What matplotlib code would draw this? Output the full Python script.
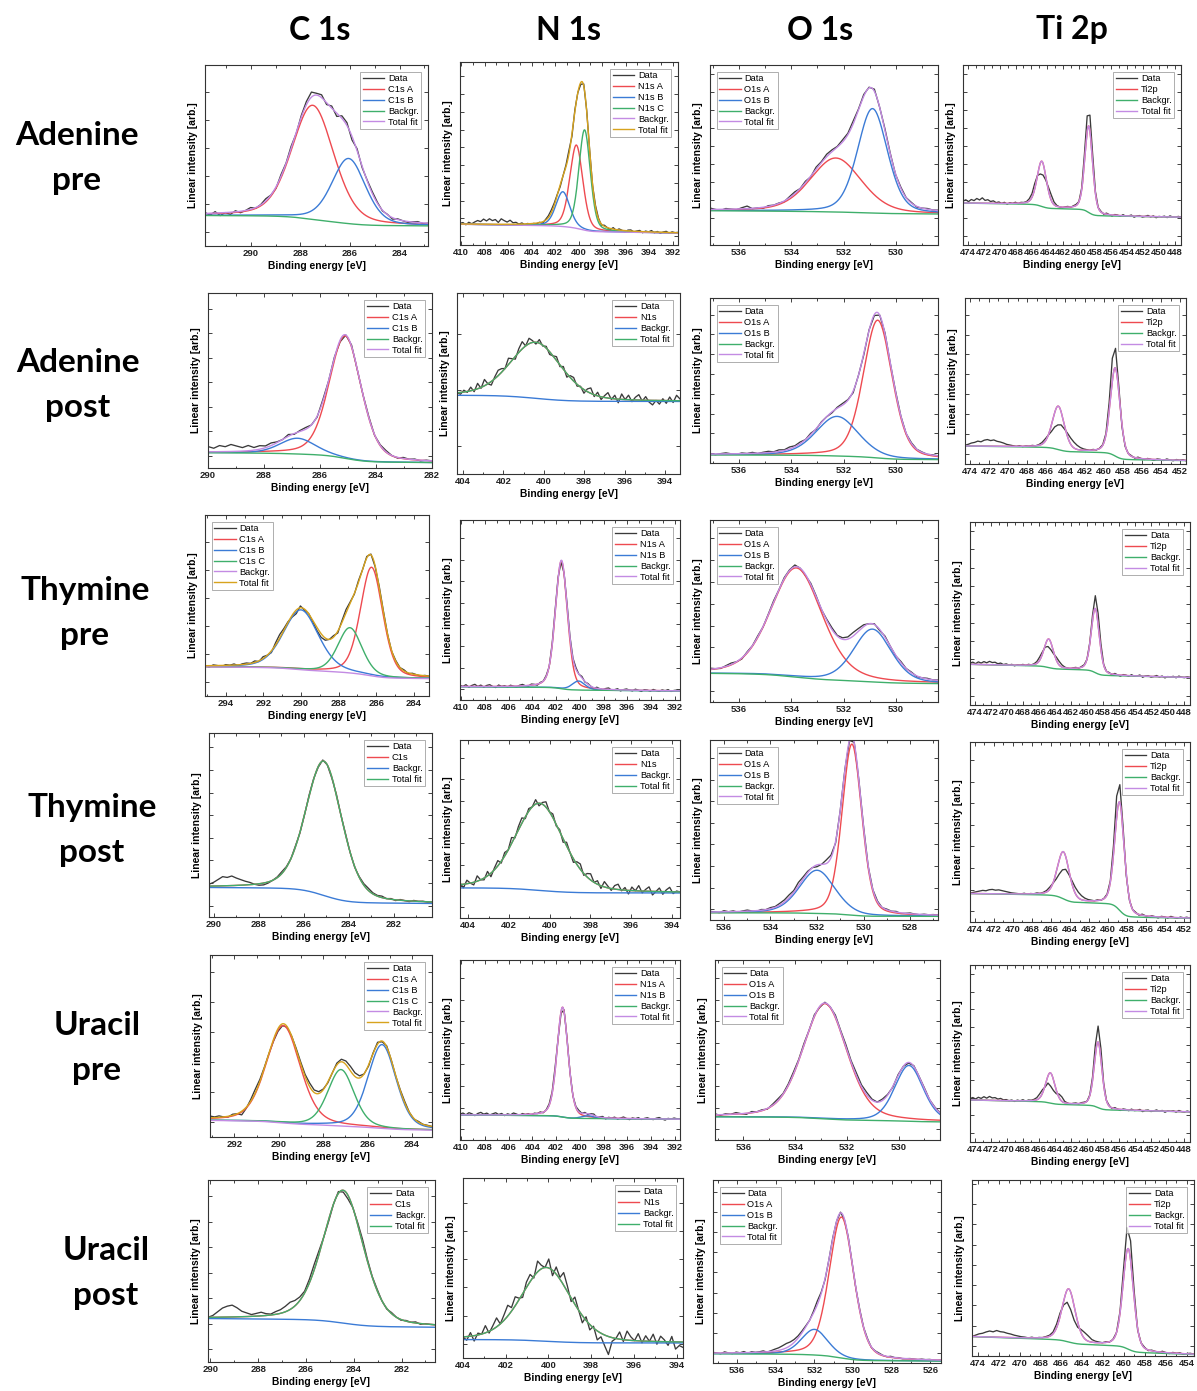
import math
import numpy as np
import matplotlib
matplotlib.use("Agg")
import matplotlib.pyplot as plt
from matplotlib.ticker import MultipleLocator

# Origin-like line colours
GRAY = '#3a3a3a'
RED = '#ee4a50'
BLUE = '#3b7bd6'
GREEN = '#3faf6b'
VIOLET = '#c38be3'
GOLD = '#d7a31d'

ROW_LABELS = ['Adenine\npre', 'Adenine\npost', 'Thymine\npre', 'Thymine\npost', 'Uracil\npre', 'Uracil\npost']
COL_TITLES = ['C 1s', 'N 1s', 'O 1s', 'Ti 2p']

# ---------------- C 1s ----------------
C1S_XLIM = [(291.85, 282.85), (290.0, 282.0), (295.1, 283.2), (290.2, 280.3), (293.1, 283.1), (290.1, 280.6)]
C1S_TICKS = [[290, 288, 286, 284], [290, 288, 286, 284, 282], [294, 292, 290, 288, 286, 284],
             [290, 288, 286, 284, 282], [292, 290, 288, 286, 284], [290, 288, 286, 284, 282]]
C1S_NAMES = [['C1s A', 'C1s B'], ['C1s A', 'C1s B'], ['C1s A', 'C1s B', 'C1s C'], ['C1s'],
             ['C1s A', 'C1s B', 'C1s C'], ['C1s']]
# (centre eV, fwhm eV, height)
C1S_PEAKS = [
    [(287.5, 2.0, 0.63), (286.05, 1.6, 0.36)],
    [(285.1, 1.35, 0.70), (286.8, 1.5, 0.09)],
    [(286.25, 1.4, 0.60), (290.0, 2.2, 0.33), (287.4, 1.5, 0.25)],
    [(285.1, 1.9, 0.73)],
    [(289.8, 1.8, 0.535), (285.35, 1.5, 0.46), (287.2, 1.4, 0.31)],
    [(284.45, 2.0, 0.73)],
]
# (level at low BE, shirley step, slope per eV)
C1S_BG = [(0.11, 0.055, 0.0005), (0.03, 0.05, 0.001), (0.095, 0.055, 0.001),
          (0.072, 0.085, 0.0005), (0.037, 0.04, 0.0015), (0.19, 0.04, 0.001)]

# ---------------- N 1s ----------------
N1S_XLIM = [(410.1, 391.55), (404.3, 393.25), (410.1, 391.55), (404.4, 393.6), (410.1, 391.55), (404.0, 393.7)]
N1S_TICKS = [[410, 408, 406, 404, 402, 400, 398, 396, 394, 392], [404, 402, 400, 398, 396, 394],
             [410, 408, 406, 404, 402, 400, 398, 396, 394, 392], [404, 402, 400, 398, 396, 394],
             [410, 408, 406, 404, 402, 400, 398, 396, 394, 392], [404, 402, 400, 398, 396, 394]]
N1S_NAMES = [['N1s A', 'N1s B', 'N1s C'], ['N1s'], ['N1s A', 'N1s B'], ['N1s'], ['N1s A', 'N1s B'], ['N1s']]
N1S_PEAKS = [
    [(400.2, 1.3, 0.455), (401.35, 1.4, 0.19), (399.5, 1.15, 0.548)],
    [(400.4, 3.0, 0.31)],
    [(401.55, 1.2, 0.71), (400.1, 1.3, 0.05)],
    [(400.5, 2.8, 0.49)],
    [(401.45, 1.1, 0.61), (399.3, 1.2, 0.015)],
    [(400.1, 2.75, 0.41)],
]
N1S_BG = [(0.065, 0.03, 0.001), (0.40, 0.036, 0.0), (0.05, 0.015, 0.0005),
          (0.14, 0.03, 0.0), (0.115, 0.015, 0.0005), (0.083, 0.02, 0.0)]

# ---------------- O 1s ----------------
O1S_XLIM = [(537.1, 528.4), (537.1, 528.4), (537.1, 528.4), (536.6, 526.8), (537.1, 528.4), (537.25, 525.45)]
O1S_TICKS = [[536, 534, 532, 530], [536, 534, 532, 530], [536, 534, 532, 530],
             [536, 534, 532, 530, 528], [536, 534, 532, 530], [536, 534, 532, 530, 528, 526]]
O1S_NAMES = [['O1s A', 'O1s B']] * 6
O1S_PEAKS = [
    [(532.3, 2.3, 0.30), (530.9, 1.35, 0.58)],
    [(530.7, 1.3, 0.835), (532.25, 1.9, 0.24)],
    [(533.8, 2.3, 0.60), (530.9, 1.7, 0.29)],
    [(530.5, 1.0, 0.95), (532.0, 1.8, 0.24)],
    [(532.85, 2.0, 0.64), (529.6, 1.3, 0.31)],
    [(530.6, 1.5, 0.77), (532.0, 1.6, 0.14)],
]
O1S_BG = [(0.172, 0.01, 0.001), (0.02, 0.025, 0.0005), (0.10, 0.05, 0.001),
          (0.02, 0.02, 0.0), (0.10, 0.025, 0.0005), (0.01, 0.035, 0.0005)]

# ---------------- Ti 2p ----------------
TI_XLIM = [(474.6, 447.2), (474.5, 451.4), (474.6, 447.2), (474.5, 451.4), (474.6, 447.2), (474.55, 453.3)]
TI_TICKS = [list(range(474, 447, -2)), list(range(474, 451, -2)), list(range(474, 447, -2)),
            list(range(474, 451, -2)), list(range(474, 447, -2)), list(range(474, 453, -2))]
TI_NAMES = [['Ti2p']] * 6
TI_PEAKS = [
    [(458.8, 1.15, 0.48), (464.7, 1.4, 0.25)],
    [(458.8, 1.2, 0.53), (464.75, 1.5, 0.26)],
    [(459.0, 1.2, 0.35), (464.8, 1.4, 0.155)],
    [(458.8, 1.2, 0.60), (464.7, 1.5, 0.26)],
    [(458.65, 1.15, 0.37), (464.6, 1.4, 0.17)],
    [(459.6, 1.2, 0.57), (465.3, 1.5, 0.30)],
]
TI_BG = [(0.154, 0.06, 0.0007), (0.02, 0.07, 0.0008), (0.15, 0.045, 0.001),
         (0.02, 0.12, 0.0008), (0.17, 0.04, 0.001), (0.008, 0.06, 0.002)]

# ---------------- measured data, as deviation from the fit (left to right) ----------------
RES_C1S_ADE_PRE = [0.005, -0.01, 0.008, -0.015, 0.0, -0.012, 0.006, -0.008, 0.0, 0.01, -0.004, 0.002, 0.012, 0.0,
                   -0.008, 0.01, 0.002, 0.012, -0.006, 0.01, 0.018, 0.028, 0.01, 0.016, -0.01, 0.012, -0.018, 0.014,
                   0.016, -0.02, 0.01, -0.008, 0.004, 0.01, 0.006, -0.004, 0.002, -0.008, 0.004, 0.0, -0.005, 0.002,
                   0.005, -0.004, 0.0]
RES_N1S_ADE_PRE = [0.004, 0.008, -0.004, 0.01, 0.002, 0.012, 0.02, 0.014, 0.028, 0.018, 0.03, 0.02, 0.026, 0.01,
                   0.03, 0.02, 0.012, 0.022, 0.008, 0.01, 0.0, 0.006, -0.004, 0.002, -0.006, 0.0, -0.004, 0.002,
                   -0.008, 0.004, 0.01, 0.015, 0.012, 0.005, -0.01, 0.0, 0.01, 0.02, -0.01, 0.01, 0.0, -0.01, 0.01,
                   0.005, 0.0, -0.005, 0.008, 0.004, -0.006, 0.006, 0.0, -0.006, 0.008, -0.004, 0.006, 0.0, -0.008,
                   0.004, 0.006, -0.004, 0.002, 0.006, -0.006, 0.004, 0.0, 0.008, -0.004, 0.004, -0.006, 0.002,
                   0.006, -0.004, 0.004, 0.0, 0.002]
RES_O1S_ADE_PRE = [0.008, 0.0, -0.006, 0.004, 0.0, -0.004, 0.006, 0.014, -0.002, 0.0, -0.006, 0.004, 0.0, 0.002,
                   -0.004, 0.006, 0.01, 0.0, 0.008, -0.004, 0.012, 0.006, 0.014, 0.01, 0.004, 0.012, 0.008, 0.016,
                   0.006, 0.01, 0.004, 0.012, 0.0, 0.008, 0.004, -0.004, 0.006, 0.0, 0.004, -0.004, 0.0, 0.004, 0.0,
                   0.002]
RES_TI_ADE_PRE = [0.01, 0.018, 0.008, 0.02, 0.014, 0.026, 0.018, 0.03, 0.016, 0.02, 0.01, 0.014, 0.004, 0.008,
                  0.0, 0.006, -0.004, 0.004, 0.0, 0.006, -0.002, 0.004, 0.002,
                  0.004, 0.012, 0.02, 0.03, 0.0, -0.06, -0.065, -0.02, 0.02, 0.03, 0.015, 0.005,
                  0.0, -0.004, 0.002, 0.004, -0.002, 0.004, 0.006, 0.002,
                  0.01, 0.05, 0.09, 0.09, 0.05, 0.01, 0.0,
                  0.004, -0.004, 0.006, 0.0, -0.006, 0.004, 0.002, -0.004, 0.006, -0.002, 0.0, 0.006, -0.006, 0.002,
                  0.004, -0.004, 0.0, 0.006, -0.002, 0.004, -0.006, 0.002, 0.0, 0.004, -0.004, 0.006, 0.0, -0.002,
                  0.004, 0.0]

RES_C1S_ADE_POST = [0.03, 0.02, 0.035, 0.028, 0.04, 0.03, 0.02, 0.03, 0.015, 0.02, 0.01, 0.015, 0.005, 0.0, 0.01,
                    -0.005, 0.005, 0.01, 0.0, -0.005, 0.01, 0.0, 0.005, -0.01, 0.0, 0.008, -0.004, 0.0, 0.006,
                    -0.004, 0.004, 0.008, 0.0, -0.004, 0.006, 0.0, 0.004, -0.004, 0.002, 0.0]
RES_N1S_ADE_POST = [0.0, -0.01, 0.01, -0.005, 0.02, -0.01, 0.03, -0.005, 0.035, 0.0, -0.02, 0.01, 0.03, 0.02, 0.0,
                    0.035, 0.01, -0.015, 0.02, 0.04, 0.0, 0.03, 0.01, -0.01, 0.02, -0.005, 0.01, -0.015, 0.0, 0.02,
                    -0.01, 0.015, -0.02, 0.01, 0.02, -0.01, 0.005, -0.02, 0.015, 0.03, -0.01, 0.02, -0.015, 0.01,
                    0.03, -0.005, 0.02, -0.02, 0.03, 0.0, 0.025, -0.01, 0.015, 0.03, -0.005, 0.02, -0.01, -0.025,
                    0.0, -0.02, 0.01, -0.015, 0.02, -0.01, 0.03, 0.01]
RES_O1S_ADE_POST = [0.004, -0.004, 0.002, 0.006, 0.0, -0.004, 0.004, 0.0, 0.006, -0.002, 0.004, 0.008, 0.002, 0.01,
                    0.004, 0.012, 0.006, 0.01, 0.0, 0.008, -0.004, 0.004, 0.0, -0.006, 0.006, 0.01, 0.004, -0.01, 0.0,
                    -0.008, 0.004, -0.006, 0.0, 0.006, -0.004, 0.004, 0.0, -0.004, 0.004, 0.0, 0.002, -0.002, 0.002,
                    0.0]
RES_TI_ADE_POST = [0.004, 0.01, 0.018, 0.022, 0.03, 0.026, 0.036, 0.04, 0.034, 0.038, 0.03, 0.026, 0.02, 0.012,
                   0.008, 0.004, 0.0, 0.004, -0.002, 0.002, 0.0, 0.004, 0.0, 0.004,
                   0.01, 0.014, 0.0, -0.04, -0.086, -0.113, -0.08, -0.026, 0.02, 0.037, 0.035, 0.025, 0.015, 0.008,
                   0.004, 0.0, 0.004, -0.002, 0.002, 0.004, 0.01,
                   0.058, 0.14, 0.12, 0.035, -0.017, -0.01,
                   0.0, 0.004, -0.004, 0.006, 0.0, -0.004, 0.004, 0.0, -0.006, 0.004, 0.002, -0.004, 0.006, 0.0,
                   -0.004, 0.004, 0.0, 0.004, -0.002]

RES_C1S_THY_PRE = [0.0, -0.008, 0.004, 0.0, -0.006, 0.004, 0.0, 0.006, -0.004, 0.004, 0.006, 0.0, 0.008, -0.004,
                   0.01, 0.0, -0.01, 0.012, 0.02, 0.01, 0.004, -0.01, -0.02, 0.01, -0.006, 0.0, -0.01, -0.018,
                   -0.02, -0.012, 0.0, 0.008, -0.01, 0.01, 0.018, 0.006, -0.004, 0.01, 0.0, 0.008, 0.004, -0.006,
                   0.004, 0.006, 0.0, -0.004, 0.004, 0.0, 0.006, -0.004, 0.004, 0.0, -0.004, 0.002, 0.0]
RES_N1S_THY_PRE = [0.006, 0.0, 0.01, -0.004, 0.006, 0.012, 0.0, 0.008, -0.004, 0.006, 0.01, 0.0, -0.006, 0.008,
                   0.0, 0.004, -0.004, 0.006, 0.0, -0.006, 0.004, 0.008, 0.0, -0.004, 0.006, 0.002, -0.006, 0.004,
                   0.0, 0.006, -0.004, 0.01, 0.02, 0.01, -0.01, 0.0, 0.012, 0.006, 0.004, 0.01, 0.0, 0.008, -0.004,
                   0.004, 0.0, -0.006, 0.006, 0.0, -0.004, 0.004, 0.008, -0.004, 0.0, 0.006, -0.006, 0.002, 0.006,
                   0.0, -0.004, 0.006, 0.0, -0.006, 0.004, 0.002, -0.004, 0.006, 0.0, -0.004, 0.004, 0.0, 0.006,
                   -0.004, 0.002, 0.004, 0.0]
RES_O1S_THY_PRE = [0.006, 0.0, -0.004, 0.004, 0.008, 0.0, -0.006, 0.004, 0.0, 0.006, -0.002, 0.004, 0.008, 0.0,
                   0.006, 0.004, 0.01, 0.0, -0.006, 0.006, 0.004, -0.004, 0.006, 0.01, 0.004, 0.008, 0.012, 0.02,
                   0.016, 0.01, 0.0, 0.004, -0.006, 0.006, 0.0, -0.004, 0.006, 0.0, 0.004, -0.004, 0.0, 0.004, 0.0,
                   0.002]
RES_TI_THY_PRE = [0.006, 0.012, 0.004, 0.014, 0.008, 0.016, 0.01, 0.018, 0.012, 0.014, 0.006, 0.01, 0.002, 0.006,
                  0.0, 0.004, -0.004, 0.002, 0.0, 0.004, -0.002, 0.004, 0.0,
                  0.004, 0.01, 0.018, 0.012, -0.01, -0.04, -0.04, -0.012, 0.016, 0.02, 0.012, 0.004,
                  0.0, -0.004, 0.002, 0.004, -0.002, 0.004, 0.004, 0.0,
                  0.006, 0.03, 0.07, 0.06, 0.03, 0.004, 0.0,
                  0.004, -0.004, 0.006, 0.0, -0.006, 0.004, 0.002, -0.004, 0.006, -0.002, 0.0, 0.006, -0.006, 0.002,
                  0.004, -0.004, 0.0, 0.006, -0.002, 0.004, -0.006, 0.002, 0.0, 0.004, -0.004, 0.006, 0.0, -0.002,
                  0.004, 0.0]

RES_C1S_THY_POST = [0.01, 0.02, 0.035, 0.05, 0.045, 0.052, 0.04, 0.03, 0.02, 0.012, 0.0, -0.008, -0.01, -0.006,
                    0.0, 0.004, 0.01, 0.004, 0.0, 0.006, -0.004, 0.0, 0.008, 0.004, -0.004, 0.006, 0.0, -0.006,
                    0.004, 0.0, 0.006, 0.0, -0.004, 0.004, 0.008, 0.012, 0.006, 0.004, 0.008, 0.0, 0.004, -0.004,
                    0.004, 0.0, -0.004, 0.004, 0.0, 0.002, -0.002, 0.0]
RES_N1S_THY_POST = [0.01, -0.02, 0.02, 0.0, -0.015, 0.03, 0.0, -0.01, 0.025, -0.02, 0.01, 0.03, -0.01, 0.02, 0.0,
                    0.035, -0.005, 0.02, 0.03, -0.01, 0.015, 0.0, 0.025, -0.015, 0.01, 0.03, 0.0, 0.02, -0.01, 0.01,
                    -0.02, 0.02, 0.0, -0.02, 0.015, 0.03, -0.01, 0.02, 0.035, 0.0, 0.02, -0.015, 0.03, 0.01, -0.01,
                    0.02, 0.03, -0.005, 0.015, -0.02, 0.02, 0.0, 0.03, -0.01, 0.01, 0.025, -0.02, 0.0, 0.02, -0.015,
                    0.01, 0.025, -0.01, 0.005, 0.0]
RES_O1S_THY_POST = [0.004, 0.0, -0.004, 0.006, 0.0, 0.004, -0.004, 0.002, 0.006, 0.0, -0.004, 0.004, 0.0, 0.006,
                    0.004, 0.01, 0.012, 0.016, 0.01, 0.02, 0.012, 0.008, 0.0, -0.01, 0.0, 0.02, 0.015, -0.01, 0.0,
                    0.006, -0.004, 0.004, 0.0, 0.006, -0.004, 0.0, 0.004, -0.002, 0.004, 0.0, 0.004, -0.004, 0.0,
                    0.004, 0.0, -0.002, 0.002, 0.0, 0.002, 0.0]
RES_TI_THY_POST = [0.002, 0.006, 0.01, 0.014, 0.018, 0.016, 0.022, 0.024, 0.02, 0.022, 0.018, 0.014, 0.01, 0.006,
                   0.004, 0.002, 0.0, 0.004, -0.002, 0.002, 0.0, 0.004, 0.0, 0.004, 0.008, 0.012, 0.0, -0.035,
                   -0.078, -0.1, -0.072, -0.024, 0.018, 0.033, 0.031, 0.022, 0.013, 0.007, 0.004, 0.0, 0.004,
                   -0.002, 0.002, 0.004, 0.008, 0.05, 0.12, 0.1, 0.03, -0.015, -0.008, 0.0, 0.004, -0.004, 0.006,
                   0.0, -0.004, 0.004, 0.0, -0.006, 0.004, 0.002, -0.004, 0.006, 0.0, -0.004, 0.004, 0.0, 0.004,
                   -0.002]

RES_C1S_URA_PRE = [0.01, 0.004, 0.008, 0.0, -0.004, 0.006, 0.0, -0.02, -0.006, 0.01, 0.02, 0.012, 0.006, 0.0,
                   -0.01, -0.015, -0.01, -0.004, 0.0, 0.006, 0.01, 0.012, 0.02, 0.014, 0.01, 0.004, -0.004, 0.0,
                   0.01, 0.014, 0.02, 0.025, 0.02, 0.012, 0.0, -0.006, 0.004, 0.01, -0.004, 0.006, 0.0, -0.004,
                   0.004, 0.008, 0.0, -0.004, 0.004, 0.0, 0.002, 0.0]
RES_N1S_URA_PRE = [0.004, 0.01, 0.0, 0.012, 0.006, -0.004, 0.008, 0.014, 0.004, 0.01, 0.0, 0.006, 0.012, 0.002,
                   0.008, -0.004, 0.006, 0.0, 0.01, 0.004, -0.004, 0.006, 0.0, 0.004, -0.006, 0.004, 0.0, 0.006,
                   -0.004, 0.002, 0.008, 0.01, 0.02, 0.0, -0.01, 0.01, 0.006, 0.0, -0.004, 0.004, 0.008, 0.0, 0.006,
                   -0.004, 0.004, 0.008, -0.004, 0.002, 0.006, -0.006, 0.004, 0.0, 0.006, -0.004, 0.002, 0.008, 0.0,
                   -0.006, 0.004, 0.0, 0.006, -0.004, 0.002, 0.006, 0.0, -0.004, 0.004, 0.008, 0.0, -0.006, 0.004,
                   0.0, 0.006, 0.002, 0.0]
RES_O1S_URA_PRE = [0.006, -0.004, 0.004, 0.0, 0.008, 0.0, -0.006, 0.006, 0.0, 0.004, -0.004, 0.006, 0.01, 0.004,
                   0.008, 0.012, 0.006, 0.01, 0.0, 0.008, -0.006, 0.004, 0.0, 0.01, 0.004, 0.012, 0.008, 0.016, 0.01,
                   0.014, 0.006, 0.0, 0.008, 0.004, -0.004, 0.006, 0.0, -0.004, 0.004, 0.0, 0.004, -0.002, 0.002,
                   0.0]
RES_TI_URA_PRE = [0.008, 0.014, 0.006, 0.016, 0.01, 0.02, 0.012, 0.022, 0.014, 0.016, 0.008, 0.012, 0.004, 0.006,
                  0.0, 0.004, -0.004, 0.004, 0.0, 0.006, -0.002, 0.004, 0.002,
                  0.006, 0.012, 0.022, 0.02, -0.01, -0.04, -0.075, -0.06, -0.02, 0.02, 0.025, 0.008,
                  0.002, -0.004, 0.002, 0.004, -0.002, 0.004, 0.004, 0.0,
                  0.004, 0.02, 0.06, 0.09, 0.06, 0.01, 0.0,
                  0.004, -0.004, 0.006, 0.0, -0.006, 0.004, 0.002, -0.004, 0.006, -0.002, 0.0, 0.006, -0.006, 0.002,
                  0.004, -0.004, 0.0, 0.006, -0.002, 0.004, -0.006, 0.002, 0.0, 0.004, -0.004, 0.006, 0.0, -0.002,
                  0.004, 0.0]

RES_C1S_URA_POST = [0.0, 0.01, 0.03, 0.05, 0.06, 0.065, 0.05, 0.03, 0.02, 0.01, 0.015, 0.02, 0.01, 0.005, 0.015,
                    0.02, 0.03, 0.04, 0.03, 0.02, 0.01, 0.02, 0.03, 0.02, 0.0, -0.01, 0.0, 0.01, -0.01, -0.02, 0.0,
                    0.01, 0.02, 0.01, 0.004, 0.008, 0.0, -0.004, 0.006, 0.0, -0.004, 0.004, 0.0, 0.006, -0.004,
                    0.002, 0.0, 0.0]
RES_N1S_URA_POST = [0.0, -0.02, 0.02, -0.03, 0.01, 0.0, 0.04, -0.01, 0.02, 0.05, 0.0, 0.03, 0.06, 0.02, 0.05, 0.01,
                    -0.02, 0.03, 0.04, -0.01, 0.06, 0.02, 0.0, 0.05, -0.03, 0.04, 0.01, 0.07, 0.03, -0.02, 0.04, 0.0,
                    -0.04, 0.02, -0.03, 0.01, -0.05, -0.02, -0.06, -0.1, -0.02, 0.0, 0.04, -0.01, 0.05, 0.02, 0.0,
                    0.04, -0.01, 0.03, 0.0, 0.04, -0.015, 0.03, 0.01, -0.02, 0.03, -0.04, -0.02, -0.03]
RES_O1S_URA_POST = [0.004, 0.0, -0.004, 0.006, 0.0, -0.004, 0.004, 0.0, 0.006, -0.004, 0.004, 0.0, 0.002, 0.006,
                    -0.002, 0.004, 0.01, 0.014, 0.02, 0.024, 0.02, 0.016, 0.012, 0.01, 0.006, 0.0, 0.01, 0.02, 0.008,
                    -0.006, 0.0, 0.006, 0.0, 0.004, -0.004, 0.004, 0.0, -0.004, 0.004, 0.0, 0.004, -0.004, 0.002,
                    0.004, 0.0, -0.002, 0.004, 0.0, 0.002, -0.002, 0.0, 0.002, 0.0, -0.002, 0.002, 0.0, 0.002, 0.0,
                    -0.002, 0.0]
RES_TI_URA_POST = [0.0, 0.008, 0.016, 0.02, 0.028, 0.034, 0.03, 0.038, 0.032, 0.03, 0.024, 0.02, 0.014, 0.01,
                   0.006, 0.004,
                   0.0, 0.004, -0.002, 0.002, 0.0, 0.004, 0.006, 0.01,
                   0.02, 0.02, -0.02, -0.07, -0.1, -0.08, -0.03, 0.02, 0.035, 0.03, 0.015,
                   0.008, 0.004, 0.0, 0.004, -0.002, 0.002, 0.0,
                   0.01, 0.06, 0.13, 0.11, 0.04, -0.01,
                   0.0, 0.004, -0.004, 0.004, 0.0, -0.004, 0.006, 0.0, -0.004, 0.004, 0.0, 0.004, -0.004, 0.002,
                   0.004, 0.0]

C1S_RES = [RES_C1S_ADE_PRE, RES_C1S_ADE_POST, RES_C1S_THY_PRE, RES_C1S_THY_POST, RES_C1S_URA_PRE, RES_C1S_URA_POST]
N1S_RES = [RES_N1S_ADE_PRE, RES_N1S_ADE_POST, RES_N1S_THY_PRE, RES_N1S_THY_POST, RES_N1S_URA_PRE, RES_N1S_URA_POST]
O1S_RES = [RES_O1S_ADE_PRE, RES_O1S_ADE_POST, RES_O1S_THY_PRE, RES_O1S_THY_POST, RES_O1S_URA_PRE, RES_O1S_URA_POST]
TI_RES = [RES_TI_ADE_PRE, RES_TI_ADE_POST, RES_TI_THY_PRE, RES_TI_THY_POST, RES_TI_URA_PRE, RES_TI_URA_POST]

# ---------------- layout (pixel boxes: left, top, right, bottom) ----------------
W, H = 1197, 1391
BOXES = [
    [(205, 65, 428, 246), (460, 62, 678, 245), (710, 65, 938, 245), (963, 65, 1181, 245)],
    [(208, 293, 432, 468), (457, 293, 680, 474), (710, 298, 938, 463), (965, 298, 1186, 464)],
    [(205, 515, 429, 696), (460, 520, 680, 700), (710, 520, 938, 702), (970, 522, 1190, 705)],
    [(209, 733, 432, 917), (460, 740, 680, 918), (710, 740, 938, 920), (970, 742, 1190, 922)],
    [(210, 955, 432, 1137), (460, 960, 680, 1140), (715, 960, 940, 1140), (970, 965, 1190, 1142)],
    [(208, 1180, 435, 1362), (463, 1178, 683, 1358), (713, 1180, 941, 1363), (972, 1180, 1194, 1356)],
]
YSTEP = [
    [0.155, 0.097, 0.10, 0.10],
    [0.14, 0.31, 0.12, 0.12],
    [0.155, 0.12, 0.12, 0.10],
    [0.123, 0.12, 0.12, 0.12],
    [0.165, 0.12, 0.12, 0.10],
    [0.14, 0.157, 0.11, 0.115],
]
ROW_POS = [(77, 158), (78, 385), (85, 613), (92, 830), (97, 1048), (106, 1273)]
COL_POS = [320, 568, 820, 1072]
LEG_LOC = [
    ['upper right', 'upper right', 'upper left', 'upper right'],
    ['upper right', 'upper right', 'upper left', 'upper right'],
    ['upper left', 'upper right', 'upper left', 'upper right'],
    ['upper right', 'upper right', 'upper left', 'upper right'],
    ['upper right', 'upper right', 'upper left', 'upper right'],
    ['upper right', 'upper right', 'upper left', 'upper right'],
]

M = 0.3  # lorentzian share of the line shape
K = 4 * math.log(2)
erf = np.vectorize(math.erf)


def peak(x, c, w, h):
    d = (x - c) / w
    return h * ((1 - M) * np.exp(-K * d ** 2) + M / (1 + 4 * d ** 2))


def peak_cdf(x, c, w):
    d = (x - c) / w
    return (1 - M) * 0.5 * (1 + erf(math.sqrt(K) * d)) + M * (0.5 + np.arctan(2 * d) / np.pi)


def background(x, peaks, bg, xmin):
    lo, step, slope = bg
    areas = [h * w for c, w, h in peaks]
    s = sum(a * peak_cdf(x, c, w) for a, (c, w, h) in zip(areas, peaks)) / sum(areas)
    return lo + step * s + slope * (x - xmin)


def total(x, peaks, bg, xmin):
    return background(x, peaks, bg, xmin) + sum(peak(x, c, w, h) for c, w, h in peaks)


def draw_panel(ax, xlim, ticks, peaks, names, bg, res, ti, loc, ystep):
    xmin = min(xlim)
    xs = np.linspace(xlim[1], xlim[0], 700)
    bgs = background(xs, peaks, bg, xmin)
    tot = total(xs, peaks, bg, xmin)

    xd = np.linspace(xlim[0], xlim[1], len(res))
    yd = total(xd, peaks, bg, xmin) + np.array(res)
    ax.plot(xd, yd, color=GRAY, lw=0.95, label='Data')

    if ti:
        ax.plot(xs, tot, color=RED, lw=1.0, label=names[0])
        bg_col, tot_col = GREEN, VIOLET
    else:
        cyc = [RED, BLUE, GREEN, VIOLET, GOLD]
        for i, ((c, w, h), name) in enumerate(zip(peaks, names)):
            ax.plot(xs, bgs + peak(xs, c, w, h), color=cyc[i], lw=1.0, label=name)
        bg_col, tot_col = cyc[len(peaks)], cyc[len(peaks) + 1]
    ax.plot(xs, bgs, color=bg_col, lw=1.0, label='Backgr.')
    ax.plot(xs, tot, color=tot_col, lw=1.0, label='Total fit')

    ax.set_xlim(xlim)
    ax.set_ylim(0, 1)
    ax.set_xticks(ticks)
    ax.set_xticklabels([str(t) for t in ticks], fontweight='bold')
    ax.xaxis.set_minor_locator(MultipleLocator(1))
    ax.set_yticks(np.arange(ystep * 0.5, 1.0, ystep))
    ax.set_yticklabels([])
    ax.tick_params(which='both', direction='in', top=True, right=True, width=0.6, colors='#222222')
    ax.tick_params(which='major', length=3.0, labelsize=6.8, pad=2)
    ax.tick_params(which='minor', length=1.8)
    for s in ax.spines.values():
        s.set_linewidth(0.8)
        s.set_color('#333333')
    ax.set_xlabel('Binding energy [eV]', fontsize=7.4, fontweight='bold', labelpad=2)
    ax.set_ylabel('Linear intensity [arb.]', fontsize=7.4, fontweight='bold', labelpad=3)
    leg = ax.legend(loc=loc, fontsize=6.7, frameon=True, fancybox=False, handlelength=2.3,
                    handletextpad=0.4, labelspacing=0.2, borderpad=0.25, borderaxespad=0.75)
    leg.get_frame().set_edgecolor('#8a8a8a')
    leg.get_frame().set_linewidth(0.6)


plt.rcParams['font.family'] = ['Liberation Sans', 'DejaVu Sans']

fig = plt.figure(figsize=(W / 100, H / 100), dpi=100)

columns = [
    (C1S_XLIM, C1S_TICKS, C1S_PEAKS, C1S_NAMES, C1S_BG, C1S_RES, False),
    (N1S_XLIM, N1S_TICKS, N1S_PEAKS, N1S_NAMES, N1S_BG, N1S_RES, False),
    (O1S_XLIM, O1S_TICKS, O1S_PEAKS, O1S_NAMES, O1S_BG, O1S_RES, False),
    (TI_XLIM, TI_TICKS, TI_PEAKS, TI_NAMES, TI_BG, TI_RES, True),
]

for r in range(6):
    for c, (xl, tk, pk, nm, bgp, rs, ti) in enumerate(columns):
        l, t, rr, b = BOXES[r][c]
        ax = fig.add_axes([l / W, 1 - b / H, (rr - l) / W, (b - t) / H])
        draw_panel(ax, xl[r], tk[r], pk[r], nm[r], bgp[r], rs[r], ti, LEG_LOC[r][c], YSTEP[r][c])

for title, x in zip(COL_TITLES, COL_POS):
    fig.text(x / W, 1 - 30 / H, title, ha='center', va='center', fontsize=23,
             fontweight='bold', family=['Lato', 'DejaVu Sans'])
for label, (x, y) in zip(ROW_LABELS, ROW_POS):
    fig.text(x / W, 1 - y / H, label, ha='center', va='center', fontsize=24, linespacing=1.65,
             fontweight='bold', family=['Lato', 'DejaVu Sans'])

fig.savefig('out.png', dpi=100)
